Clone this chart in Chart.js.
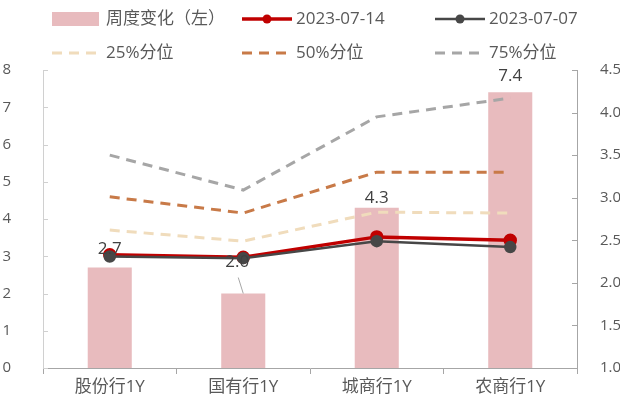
<!DOCTYPE html>
<html>
<head>
<meta charset="utf-8">
<script src="https://cdn.jsdelivr.net/npm/chart.js@4"></script>
<style>
  html, body { margin: 0; padding: 0; background: #fff; }
  #wrap { width: 620px; height: 403px; }
</style>
</head>
<body>
<div id="wrap"><canvas id="myChart" width="620" height="403"></canvas></div>
<script>
const categories = ['股份行1Y', '国有行1Y', '城商行1Y', '农商行1Y'];
const weeklyChange = [2.7, 2.0, 4.3, 7.4];
const rate0714 = [2.33, 2.30, 2.54, 2.50];
const rate0707 = [2.31, 2.29, 2.49, 2.42];
const pct25 = [2.62, 2.49, 2.83, 2.82];
const pct50 = [3.01, 2.82, 3.30, 3.30];
const pct75 = [3.50, 3.09, 3.95, 4.17];
const leftTicks = [0, 1, 2, 3, 4, 5, 6, 7, 8];
const rightTicks = [1.0, 1.5, 2.0, 2.5, 3.0, 3.5, 4.0, 4.5];

const FONT = "'Open Sans', 'Noto Sans CJK SC', sans-serif";
const TEXT = '#595959';

// label offsets above bar top; second one is pulled up with a leader line
const labelLift = [18, 31, 10, 16];

const barLabels = {
    id: 'barLabels',
    afterDatasetsDraw(chart) {
        const ctx = chart.ctx;
        const meta = chart.getDatasetMeta(0);
        ctx.save();
        ctx.font = '17px ' + FONT;
        ctx.fillStyle = '#404040';
        ctx.textAlign = 'center';
        ctx.textBaseline = 'middle';
        meta.data.forEach((bar, i) => {
            const lift = labelLift[i];
            let x = bar.x;
            if (lift > 25) {
                x = bar.x - 6;
                ctx.strokeStyle = '#a6a6a6';
                ctx.lineWidth = 1;
                ctx.beginPath();
                ctx.moveTo(x + 1, bar.y - lift + 15);
                ctx.lineTo(bar.x, bar.y);
                ctx.stroke();
            }
            ctx.fillText(weeklyChange[i].toFixed(1), x, bar.y - lift);
        });
        ctx.restore();
    }
};

// short inward tick marks on both value axes
const innerTicks = {
    id: 'innerTicks',
    beforeDatasetsDraw(chart) {
        const ctx = chart.ctx;
        const area = chart.chartArea;
        ctx.save();
        ctx.lineWidth = 1;
        ctx.strokeStyle = '#d0d0d0';
        leftTicks.forEach(v => {
            const y = Math.round(chart.scales.y.getPixelForValue(v)) + 0.5;
            ctx.beginPath();
            ctx.moveTo(area.left, y);
            ctx.lineTo(area.left + 5, y);
            ctx.stroke();
        });
        ctx.strokeStyle = '#a6a6a6';
        rightTicks.forEach(v => {
            const y = Math.round(chart.scales.y1.getPixelForValue(v)) + 0.5;
            ctx.beginPath();
            ctx.moveTo(area.right - 5, y);
            ctx.lineTo(area.right, y);
            ctx.stroke();
        });
        ctx.restore();
    }
};

const legendSpots = [[52, 19], [242, 19], [435, 19], [52, 53], [242, 53], [435, 53]];

const gridLegend = {
    id: 'gridLegend',
    afterDraw(chart) {
        const ctx = chart.ctx;
        ctx.save();
        ctx.font = '17px ' + FONT;
        ctx.textBaseline = 'middle';
        ctx.textAlign = 'left';
        chart.data.datasets.forEach((ds, i) => {
            const [x, y] = legendSpots[i];
            if (ds.type === 'bar') {
                ctx.fillStyle = ds.backgroundColor;
                ctx.fillRect(x, y - 7, 47, 14);
            } else {
                ctx.strokeStyle = ds.borderColor;
                ctx.lineWidth = ds.borderWidth;
                ctx.setLineDash(ds.borderDash || []);
                ctx.beginPath();
                ctx.moveTo(x, y);
                ctx.lineTo(x + 50, y);
                ctx.stroke();
                ctx.setLineDash([]);
                if (ds.pointRadius > 0) {
                    ctx.fillStyle = ds.pointBackgroundColor;
                    ctx.beginPath();
                    ctx.arc(x + 25, y, 4.5, 0, Math.PI * 2);
                    ctx.fill();
                }
            }
            ctx.fillStyle = TEXT;
            ctx.fillText(ds.label, x + 54, y);
        });
        ctx.restore();
    }
};

const ctx = document.getElementById('myChart');

new Chart(ctx, {
    data: {
        labels: categories,
        datasets: [
            {
                type: 'bar',
                label: '周度变化（左）',
                data: weeklyChange,
                yAxisID: 'y',
                backgroundColor: '#e8bbbe',
                barPercentage: 0.33,
                categoryPercentage: 1,
                order: 10
            },
            {
                type: 'line',
                label: '2023-07-14',
                data: rate0714,
                yAxisID: 'y1',
                borderColor: '#c00000',
                backgroundColor: '#c00000',
                pointBackgroundColor: '#c00000',
                pointBorderColor: '#c00000',
                borderWidth: 3.5,
                pointRadius: 5,
                order: 2
            },
            {
                type: 'line',
                label: '2023-07-07',
                data: rate0707,
                yAxisID: 'y1',
                borderColor: '#474747',
                backgroundColor: '#474747',
                pointBackgroundColor: '#474747',
                pointBorderColor: '#474747',
                borderWidth: 2.5,
                pointRadius: 5,
                order: 1
            },
            {
                type: 'line',
                label: '25%分位',
                data: pct25,
                yAxisID: 'y1',
                borderColor: '#f0dcbc',
                borderWidth: 3,
                borderDash: [10, 7],
                pointRadius: 0,
                order: 5
            },
            {
                type: 'line',
                label: '50%分位',
                data: pct50,
                yAxisID: 'y1',
                borderColor: '#c87a48',
                borderWidth: 3,
                borderDash: [10, 7],
                pointRadius: 0,
                order: 5
            },
            {
                type: 'line',
                label: '75%分位',
                data: pct75,
                yAxisID: 'y1',
                borderColor: '#a6a6a6',
                borderWidth: 3,
                borderDash: [10, 7],
                pointRadius: 0,
                order: 5
            }
        ]
    },
    options: {
        responsive: false,
        animation: false,
        layout: { padding: { top: 70, left: 0, right: 0, bottom: 0 } },
        plugins: {
            legend: { display: false },
            tooltip: { enabled: false }
        },
        scales: {
            x: {
                offset: true,
                afterFit: s => { s.height = 35; },
                grid: {
                    offset: true,
                    drawOnChartArea: false,
                    drawTicks: true,
                    tickLength: 6,
                    color: '#a6a6a6'
                },
                border: { display: true, color: '#a6a6a6' },
                ticks: { color: TEXT, font: { size: 17, family: FONT }, padding: 3 }
            },
            y: {
                position: 'left',
                min: 0,
                max: 8,
                afterFit: s => { s.width = 43; },
                afterBuildTicks: s => { s.ticks = leftTicks.map(v => ({ value: v })); },
                grid: { display: false },
                border: { display: true, color: '#d0d0d0' },
                ticks: { color: TEXT, font: { size: 15, family: FONT }, padding: 24 }
            },
            y1: {
                position: 'right',
                min: 1,
                max: 4.5,
                afterFit: s => { s.width = 43; },
                afterBuildTicks: s => { s.ticks = rightTicks.map(v => ({ value: v })); },
                grid: { display: false },
                border: { display: true, color: '#a6a6a6' },
                ticks: {
                    color: TEXT,
                    font: { size: 15, family: FONT },
                    padding: 15,
                    callback: v => Number(v).toFixed(1)
                }
            }
        }
    },
    plugins: [innerTicks, barLabels, gridLegend]
});
</script>
</body>
</html>
